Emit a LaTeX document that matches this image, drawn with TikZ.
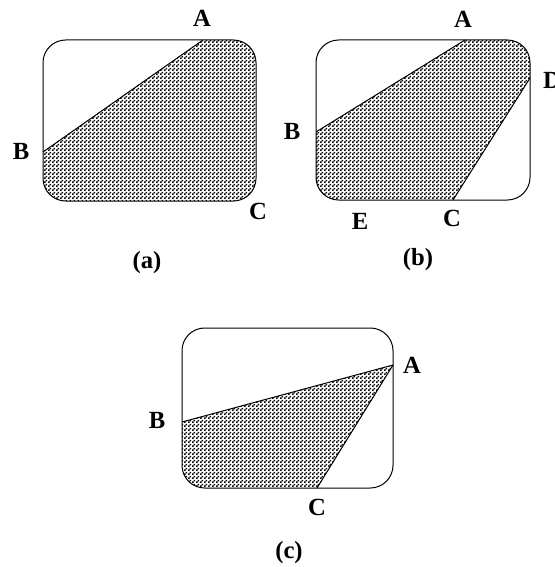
\documentclass[tikz,border=0pt]{standalone}
\usepackage{fontspec}
\setmainfont{Liberation Serif}
\usetikzlibrary{patterns.meta}
\pgfdeclarepattern{name=stipple, type=uncolored,
  bottom left={\pgfpoint{0pt}{0pt}}, top right={\pgfpoint{3pt}{3pt}},
  tile size={\pgfpoint{3pt}{3pt}},
  code={\pgfpathrectangle{\pgfpoint{0pt}{0pt}}{\pgfpoint{1.45pt}{1.45pt}}
        \pgfpathrectangle{\pgfpoint{1.5pt}{1.5pt}}{\pgfpoint{1.45pt}{1.45pt}}
        \pgfusepath{fill}}}
\begin{document}
\begin{tikzpicture}[x=0.75pt,y=-0.75pt,
  box/.style={draw=black,line width=0.75pt,rounded corners=17pt},
  edge/.style={draw=black,line width=0.75pt},
  shade/.style={pattern={stipple},pattern color=black},
  lbl/.style={font=\fontsize{18.5}{20}\selectfont\bfseries,inner sep=0pt}]
\useasboundingbox (0,0) rectangle (554,567);
% ---------- (a)
\coordinate (aA) at (203,40);
\coordinate (aB) at (43,152);
\begin{scope}
  \clip[rounded corners=17pt] (43,40) rectangle (256,201);
  \fill[shade] (251,6) -- (11,174) -- (11,230) -- (290,230) -- (290,6) -- cycle;
\end{scope}
\draw[box] (43,40) rectangle (256,201);
\draw[edge] (aA) -- (aB);
\node[lbl] (laA) at (202,18) {A};
\node[lbl] (laB) at (21,151) {B};
\node[lbl] (laC) at (258,211) {C};
\node[lbl] (capa) at (147,263) {(a)};
% ---------- (b)
\coordinate (bA) at (465,40);
\coordinate (bB) at (316,132);
\coordinate (bC) at (453,200);
\coordinate (bD) at (530,78);
\begin{scope}
  \clip[rounded corners=17pt] (316,40) rectangle (530,200);
  \fill[shade] (611,-50) -- (286,150) -- (286,230) -- (438,224) -- cycle;
\end{scope}
\draw[box] (316,40) rectangle (530,200);
\draw[edge] (bA) -- (bB);
\draw[edge] (bD) -- (bC);
\node[lbl] (lbA) at (463,19) {A};
\node[lbl] (lbD) at (552,80) {D};
\node[lbl] (lbB) at (292,131) {B};
\node[lbl] (lbE) at (360,221) {E};
\node[lbl] (lbC) at (452,218) {C};
\node[lbl] (capb) at (418,260) {(b)};
% ---------- (c)
\coordinate (cA) at (393,365);
\coordinate (cB) at (182,422);
\coordinate (cC) at (317,488);
\begin{scope}
  \clip[rounded corners=17pt] (182,328) rectangle (393,488);
  \fill[shade] (cA) -- (cB) -- (150,422) -- (150,520) -- (302,513) -- cycle;
\end{scope}
\draw[box] (182,328) rectangle (393,488);
\draw[edge] (cA) -- (cB);
\draw[edge] (cA) -- (cC);
\node[lbl] (lcA) at (412,365) {A};
\node[lbl] (lcB) at (157,420) {B};
\node[lbl] (lcC) at (317,507) {C};
\node[lbl] (capc) at (289,553) {(c)};
\end{tikzpicture}
\end{document}
